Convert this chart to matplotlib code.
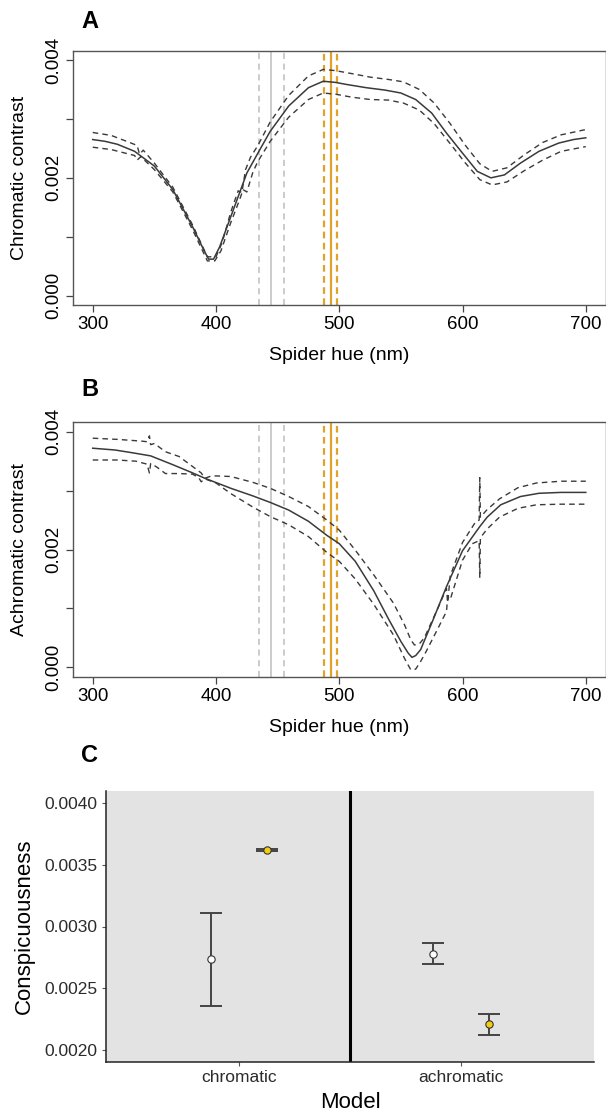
import numpy as np
import matplotlib
matplotlib.use('Agg')
import matplotlib.pyplot as plt

plt.rcParams['font.family'] = ['Liberation Sans', 'DejaVu Sans']

# ---- Panel A: chromatic contrast vs spider hue (values x 1e-3) ----
a_mean_nm = [300, 310, 320, 334, 350, 365, 381, 390, 394, 398, 403, 412, 425, 434,
             444, 459, 475, 487, 497, 506, 522, 537, 550, 562, 575, 587, 600, 612,
             623, 634, 647, 662, 678, 690, 700]
a_mean = [2.65, 2.62, 2.57, 2.45, 2.20, 1.80, 1.17, 0.78, 0.62, 0.62, 0.83, 1.34, 2.08, 2.42,
          2.79, 3.22, 3.53, 3.64, 3.62, 3.585, 3.53, 3.49, 3.44, 3.33, 3.10, 2.76, 2.42, 2.11,
          2.00, 2.05, 2.25, 2.45, 2.59, 2.65, 2.68]
a_upper_nm = [300, 315, 330, 336, 338, 341, 350, 365, 381, 393, 400, 405, 412, 418, 421,
              424, 428, 434, 444, 459, 475, 487, 497, 510, 525, 540, 552, 565, 577, 590,
              602, 614, 624, 636, 650, 665, 680, 700]
a_upper = [2.77, 2.72, 2.60, 2.55, 2.40, 2.47, 2.25, 1.84, 1.20, 0.66, 0.66, 0.90, 1.42, 1.78, 1.75,
           2.14, 2.35, 2.55, 2.95, 3.40, 3.73, 3.84, 3.82, 3.77, 3.71, 3.67, 3.63, 3.50, 3.27, 2.92,
           2.56, 2.24, 2.11, 2.17, 2.39, 2.60, 2.73, 2.82]
a_lower_nm = [300, 315, 330, 334, 336, 339, 350, 365, 381, 393, 399, 404, 412, 419, 422,
              425, 430, 434, 444, 459, 475, 487, 497, 510, 525, 540, 552, 565, 577, 590,
              602, 614, 624, 636, 650, 665, 680, 700]
a_lower = [2.52, 2.48, 2.40, 2.38, 2.30, 2.36, 2.14, 1.76, 1.12, 0.59, 0.59, 0.76, 1.24, 1.62, 1.80,
           1.76, 2.10, 2.28, 2.62, 3.03, 3.33, 3.44, 3.42, 3.37, 3.33, 3.32, 3.27, 3.15, 2.92, 2.58,
           2.26, 1.97, 1.88, 1.93, 2.12, 2.30, 2.45, 2.53]

# ---- Panel B: achromatic contrast vs spider hue (values x 1e-3) ----
b_mean_nm = [300, 318, 333, 347, 365, 380, 391, 412, 430, 444, 459, 475, 490, 500, 513,
             528, 540, 550, 556, 559, 562, 566, 575, 587, 600, 614, 620, 631, 647, 662,
             680, 700]
b_mean = [3.72, 3.69, 3.64, 3.59, 3.44, 3.31, 3.21, 3.04, 2.91, 2.80, 2.67, 2.48, 2.24, 2.10, 1.80,
          1.30, 0.82, 0.44, 0.24, 0.17, 0.20, 0.30, 0.75, 1.37, 1.98, 2.39, 2.55, 2.76, 2.90, 2.955,
          2.97, 2.97]
b_upper_nm = [300, 320, 340, 344, 346, 347, 350, 359, 370, 381, 388, 391, 395, 400, 412,
              430, 444, 459, 475, 490, 500, 513, 528, 544, 553, 558, 561, 565, 569, 581,
              587, 588, 590, 600, 610, 613.5, 614, 614.5, 620, 630, 645, 660, 680, 700]
b_upper = [3.89, 3.87, 3.84, 3.83, 3.93, 3.78, 3.80, 3.66, 3.58, 3.41, 3.30, 3.21, 3.24, 3.25, 3.24,
           3.14, 3.04, 2.90, 2.73, 2.50, 2.33, 1.99, 1.57, 1.09, 0.72, 0.47, 0.38, 0.40, 0.50, 1.05,
           1.34, 1.10, 1.55, 2.12, 2.45, 2.50, 3.22, 2.55, 2.68, 2.86, 3.05, 3.13, 3.16, 3.16]
b_lower_nm = [300, 320, 335, 344, 346, 347, 352, 359, 370, 381, 386, 388, 391, 400, 412,
              430, 444, 459, 475, 490, 500, 513, 528, 544, 553, 558, 562, 566, 570, 581,
              587, 588, 590, 600, 608, 613.5, 614, 614.5, 620, 630, 645, 660, 680, 700]
b_lower = [3.52, 3.52, 3.50, 3.45, 3.30, 3.46, 3.40, 3.29, 3.29, 3.28, 3.22, 3.15, 3.20, 3.13, 2.95,
           2.72, 2.56, 2.42, 2.22, 1.95, 1.80, 1.50, 1.07, 0.55, 0.15, -0.04, -0.03, 0.10, 0.25, 0.70,
           0.95, 1.20, 1.15, 1.82, 2.10, 2.15, 1.52, 2.20, 2.35, 2.55, 2.70, 2.76, 2.77, 2.77]

# reference hue lines (nm)
grey_hue = [435, 445, 455]
orange_hue = [488, 493, 498]

# ---- Panel C: conspicuousness by model ----
models = ['chromatic', 'achromatic']
white_mean = [0.002734, 0.002780]
white_lo = [0.002356, 0.002699]
white_hi = [0.003112, 0.002866]
yellow_mean = [0.003619, 0.002208]
yellow_lo = [0.003609, 0.002121]
yellow_hi = [0.003629, 0.002292]

W, H = 606, 1116
fig = plt.figure(figsize=(W / 100, H / 100), dpi=100)


def box(l, t, r, b):
    return [l / W, 1 - b / H, (r - l) / W, (b - t) / H]


def fx(x):
    return x / W


def fy(y):
    return 1 - y / H


line_col = '#3a3a3a'
dash = (0, (4, 3))


def hue_panel(ax, mx, my, ux, uy, lx, ly, ylabel):
    s = 1e-3
    for v, ls in zip(grey_hue, ['--', '-', '--']):
        ax.axvline(v, color='#bdbdbd', lw=1.1, ls=ls, dashes=(4, 3) if ls == '--' else (None, None))
    for v, ls in zip(orange_hue, ['--', '-', '--']):
        ax.axvline(v, color='#e0a22a', lw=1.6, ls=ls, dashes=(3, 2) if ls == '--' else (None, None))
    ax.plot(mx, np.array(my) * s, color=line_col, lw=1.1)
    ax.plot(ux, np.array(uy) * s, color=line_col, lw=1.0, ls=dash)
    ax.plot(lx, np.array(ly) * s, color=line_col, lw=1.0, ls=dash)
    ax.set_xlim(284, 716)
    ax.set_ylim(-0.00016, 0.00416)
    ax.set_xticks([300, 400, 500, 600, 700])
    ax.set_yticks([0.0, 0.001, 0.002, 0.003, 0.004])
    ax.set_yticklabels(['0.000', '', '0.002', '', '0.004'], rotation=90, va='center')
    ax.tick_params(direction='out', length=5, width=0.9, color='#444444', labelsize=13.5, pad=3)
    for sp in ax.spines.values():
        sp.set_color('#555555')
        sp.set_linewidth(1.0)


axA = fig.add_axes(box(73, 50.6, 605.5, 305.1))
hue_panel(axA, a_mean_nm, a_mean, a_upper_nm, a_upper, a_lower_nm, a_lower, 'Chromatic contrast')
axB = fig.add_axes(box(73, 422.3, 605.5, 676.8))
hue_panel(axB, b_mean_nm, b_mean, b_upper_nm, b_upper, b_lower_nm, b_lower, 'Achromatic contrast')

fig.text(fx(20), fy(178), 'Chromatic contrast', rotation=90, ha='center', va='center', fontsize=14)
fig.text(fx(20), fy(549), 'Achromatic contrast', rotation=90, ha='center', va='center', fontsize=14)
fig.text(fx(339), fy(355), 'Spider hue (nm)', ha='center', va='center', fontsize=14)
fig.text(fx(339), fy(727), 'Spider hue (nm)', ha='center', va='center', fontsize=14)
for lab, yy in [('A', 22), ('B', 390), ('C', 755)]:
    fig.text(fx(90), fy(yy), lab, ha='center', va='center', fontsize=17, fontweight='bold')

# ---- Panel C ----
axC = fig.add_axes(box(106, 791, 594, 1062))
axC.set_facecolor('#e3e3e3')
pos = np.arange(1, len(models) + 1)
off = 0.125
cap = 0.05
err_col = '#444444'
for xs, m, lo, hi, fc in [(pos - off, white_mean, white_lo, white_hi, 'white'),
                          (pos + off, yellow_mean, yellow_lo, yellow_hi, '#f2cd14')]:
    axC.vlines(xs, lo, hi, color=err_col, lw=1.4, zorder=2)
    axC.hlines(lo, xs - cap, xs + cap, color=err_col, lw=1.4, zorder=2)
    axC.hlines(hi, xs - cap, xs + cap, color=err_col, lw=1.4, zorder=2)
    axC.plot(xs, m, 'o', ms=5.3, mfc=fc, mec='#333333', mew=0.8, zorder=3)
axC.axvline(1.5, color='black', lw=2.2, zorder=1)
axC.set_xlim(0.4, 2.6)
axC.set_ylim(0.001903, 0.004097)
axC.set_xticks(pos)
axC.set_xticklabels(models)
axC.set_yticks([0.0020, 0.0025, 0.0030, 0.0035, 0.0040])
axC.set_yticklabels(['0.0020', '0.0025', '0.0030', '0.0035', '0.0040'])
axC.tick_params(direction='out', length=3, width=0.8, color='#555555', labelsize=12.5,
                labelcolor='#2b2b2b', pad=3)
for side in ['top', 'right']:
    axC.spines[side].set_visible(False)
for side in ['left', 'bottom']:
    axC.spines[side].set_color('#222222')
    axC.spines[side].set_linewidth(1.1)
fig.text(fx(24), fy(926), 'Conspicuousness', rotation=90, ha='center', va='center', fontsize=16)
fig.text(fx(350), fy(1103), 'Model', ha='center', va='center', fontsize=16)

fig.savefig('out.png', dpi=100, facecolor='white')
